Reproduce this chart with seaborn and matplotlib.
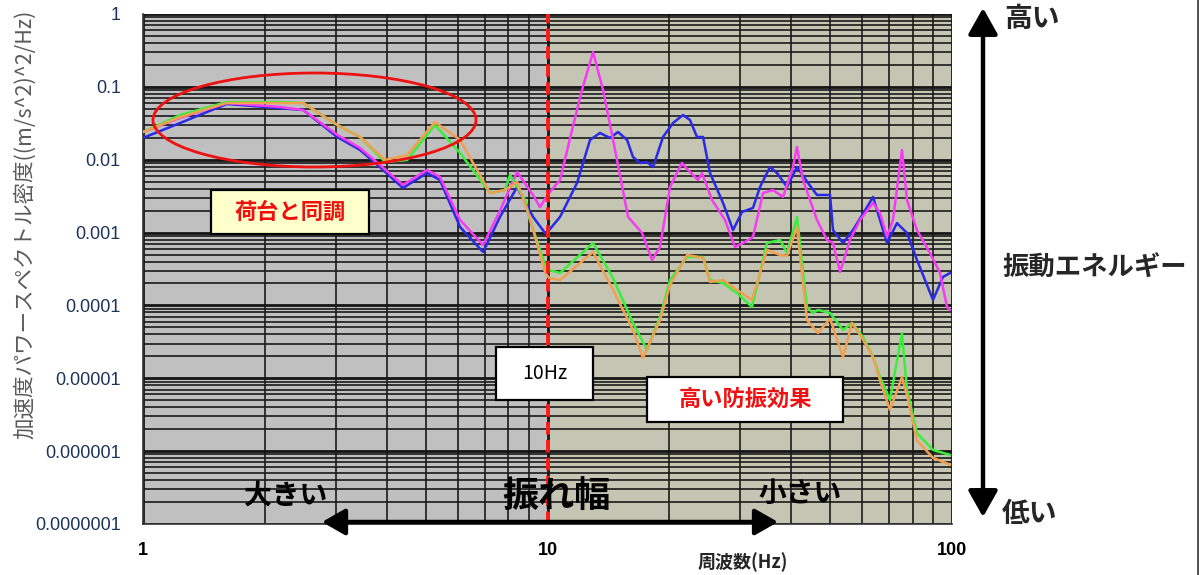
import numpy as np
import pandas as pd
import seaborn as sns
import matplotlib
matplotlib.use("Agg")
import matplotlib.pyplot as plt
from matplotlib.patches import Ellipse, Rectangle, FancyArrowPatch
from matplotlib.lines import Line2D
from matplotlib.ticker import LogLocator, FixedLocator, NullFormatter

# ---------------- data ----------------
blue_f = [1.0, 1.235, 1.61, 2.18, 2.49, 3.02, 3.44, 3.85, 4.39, 5.04, 5.42, 6.08, 6.93, 7.63, 8.41,
          9.21, 9.86, 10.09, 10.74, 11.83, 12.74, 13.48, 14.27, 14.94, 15.73, 16.27, 16.93, 17.62,
          18.24, 19.30, 20.43, 21.63, 22.5, 23.42, 24.24, 25.22, 27.16, 28.75, 30.26, 32.21, 33.52,
          35.48, 36.93, 39.09, 41.38, 44.06, 46.37, 49.94, 50.8, 53.78, 56.9, 61.65, 63.79, 69.07,
          73.11, 77.4, 81.94, 89.74, 95.0, 98.9]
blue_v = [0.0199, 0.0319, 0.0582, 0.051, 0.0481, 0.0205, 0.0136, 0.00795, 0.00409, 0.00657, 0.00527,
          0.00119, 0.000541, 0.00164, 0.00422, 0.00164, 0.000987, 0.00108, 0.00164, 0.00479, 0.0187,
          0.0233, 0.0199, 0.024, 0.0187, 0.0109, 0.00902, 0.0093, 0.00795, 0.0205, 0.0319, 0.0411,
          0.0351, 0.0205, 0.0205, 0.00657, 0.00255, 0.00108, 0.00192, 0.00218, 0.00422, 0.00795,
          0.00657, 0.00422, 0.00795, 0.00479, 0.00328, 0.00328, 0.00108, 0.000719, 0.00108, 0.00224,
          0.00308, 0.000719, 0.00135, 0.000987, 0.00042, 0.000119, 0.000246, 0.000279]

magenta_f = [1.0, 1.235, 1.61, 2.18, 2.49, 3.02, 3.44, 3.85, 4.39, 5.04, 5.42, 6.08, 6.93, 7.63, 8.41,
             9.21, 9.58, 10.09, 10.74, 11.5, 12.17, 12.96, 13.72, 14.69, 15.82, 17.13, 18.13, 18.97,
             20.09, 21.5, 22.25, 23.55, 24.1, 25.51, 27.47, 29.08, 30.78, 32.21, 34.1, 36.1, 38.21,
             40.45, 41.38, 42.82, 46.37, 49.1, 50.8, 52.87, 55.94, 59.25, 63.79, 66.37, 69.07, 71.46,
             75.22, 77.4, 81.94, 88.22, 93.4, 97.2, 98.9]
magenta_v = [0.024, 0.0375, 0.060, 0.053, 0.0481, 0.022, 0.0145, 0.0085, 0.0045, 0.00723, 0.0058,
             0.00149, 0.000675, 0.002, 0.00678, 0.00328, 0.00224, 0.00349, 0.00527, 0.0256, 0.0906,
             0.301, 0.0906, 0.0136, 0.00164, 0.000987, 0.00042, 0.000634, 0.00422, 0.00902, 0.00723,
             0.00527, 0.00657, 0.0028, 0.00149, 0.000634, 0.000743, 0.00087, 0.00349, 0.00384,
             0.00308, 0.00795, 0.01495, 0.00527, 0.00149, 0.00079, 0.000719, 0.000288, 0.00079,
             0.00149, 0.00255, 0.00186, 0.00087, 0.00149, 0.0136, 0.0028, 0.00108, 0.000524,
             0.000279, 0.0000952, 0.0000866]

green_f = [1.0, 1.235, 1.61, 2.18, 2.49, 3.02, 3.44, 3.97, 4.50, 5.27, 6.08, 7.21, 7.85, 8.08, 8.80,
           9.0, 9.86, 10.09, 10.74, 12.96, 14.52, 16.27, 17.62, 18.97, 20.09, 22.13, 24.24, 25.22,
           27.16, 29.41, 32.03, 34.88, 37.57, 39.09, 41.38, 43.8, 45.33, 46.64, 49.94, 53.78, 56.58,
           60.26, 63.79, 66.37, 70.26, 75.22, 77.4, 81.94, 89.74, 98.9]
green_v = [0.024, 0.041, 0.062, 0.062, 0.060, 0.030, 0.0205, 0.0093, 0.00991, 0.030, 0.01237,
           0.00349, 0.00384, 0.00617, 0.0028, 0.00164, 0.000359, 0.000306, 0.000279, 0.000719,
           0.000238, 0.0000574, 0.0000245, 0.0000694, 0.000223, 0.000462, 0.000462, 0.000223,
           0.000203, 0.000148, 0.0000952, 0.000719, 0.00079, 0.000524, 0.00164, 0.0000952,
           0.0000788, 0.0000866, 0.0000788, 0.000046, 0.0000574, 0.0000369, 0.0000196, 0.0000104,
           0.00000504, 0.0000418, 0.0000069, 0.00000177, 0.00000104, 0.000000886]

orange_f = [1.0, 1.235, 1.61, 2.18, 2.49, 3.02, 3.44, 3.97, 4.50, 5.27, 6.08, 7.21, 7.85, 8.41, 9.0,
            9.86, 10.09, 10.74, 12.96, 14.52, 16.27, 17.22, 18.97, 20.09, 22.13, 24.24, 25.22, 27.16,
            29.41, 32.03, 34.88, 37.57, 39.09, 41.38, 43.8, 46.64, 49.94, 53.78, 56.58, 60.26, 63.79,
            66.37, 70.26, 75.22, 77.4, 81.94, 89.74, 98.9]
orange_v = [0.024, 0.0385, 0.060, 0.060, 0.060, 0.030, 0.0205, 0.00991, 0.0116, 0.0329, 0.0187,
            0.00349, 0.00384, 0.00494, 0.00174, 0.000288, 0.000238, 0.000223, 0.000541, 0.000163,
            0.000046, 0.000019, 0.000063, 0.000191, 0.000493, 0.00045, 0.00021, 0.000223, 0.000163,
            0.000119, 0.00058, 0.000493, 0.00048, 0.00119, 0.000063, 0.0000418, 0.000066, 0.0000196,
            0.0000574, 0.000034, 0.0000196, 0.0000094, 0.00000367, 0.0000104, 0.0000059, 0.0000014,
            0.00000081, 0.00000065]

x_ticks = [1, 10, 100]
x_tick_labels = ["1", "10", "100"]
y_ticks = [1e-7, 1e-6, 1e-5, 1e-4, 1e-3, 1e-2, 1e-1, 1]
y_tick_labels = ["0.0000001", "0.000001", "0.00001", "0.0001", "0.001", "0.01", "0.1", "1"]

# ---------------- figure ----------------
sns.set_style("white")
plt.rcParams["font.family"] = ["Noto Sans CJK JP", "DejaVu Sans"]

W, H = 1203, 575
fig = plt.figure(figsize=(W / 100, H / 100), dpi=100)
fig.patch.set_facecolor("white")

def fx(px):
    return px / W

def fy(py):
    return 1 - py / H

ax = fig.add_axes([fx(143), fy(524), (952 - 143) / W, (524 - 14) / H])
ax.set_xscale("log")
ax.set_yscale("log")

ax.axvspan(1, 10, color="#c0c0c0", zorder=-2, lw=0)
ax.axvspan(10, 100, color="#c5c5b3", zorder=-2, lw=0)

series = [
    (blue_f, blue_v, "#2a2ae6"),
    (magenta_f, magenta_v, "#f53cf3"),
    (green_f, green_v, "#3cee3c"),
    (orange_f, orange_v, "#f0a050"),
]
for f, v, c in series:
    df = pd.DataFrame({"f": f, "v": v})
    sns.lineplot(data=df, x="f", y="v", color=c, lw=1.8, ax=ax, sort=False,
                 legend=False, zorder=3)

ax.set_xlim(1, 100)
ax.set_ylim(1e-7, 1)

ax.xaxis.set_major_locator(FixedLocator(x_ticks))
ax.xaxis.set_minor_locator(LogLocator(base=10, subs=np.arange(2, 10), numticks=20))
ax.xaxis.set_minor_formatter(NullFormatter())
ax.yaxis.set_major_locator(FixedLocator(y_ticks))
ax.yaxis.set_minor_locator(LogLocator(base=10, subs=np.arange(2, 10), numticks=20))
ax.yaxis.set_minor_formatter(NullFormatter())
ax.set_xticklabels(x_tick_labels, fontsize=13, fontweight="bold", color="black",
                   fontfamily=["Liberation Sans", "DejaVu Sans"])
ax.set_yticklabels(y_tick_labels, fontsize=13, color="#1d3358",
                   fontfamily=["Liberation Sans", "DejaVu Sans"])
ax.tick_params(axis="x", which="both", length=0, pad=13)
ax.tick_params(axis="y", which="both", length=0, pad=16)

ax.set_axisbelow(True)
ax.grid(which="major", color="#151515", lw=2.0, zorder=0.5)
ax.grid(which="minor", color="#1a1a1a", lw=1.2, zorder=0.5)
for s in ["top", "right"]:
    ax.spines[s].set_visible(False)
for s in ["left", "bottom"]:
    ax.spines[s].set_color("#333333")
    ax.spines[s].set_linewidth(1.2)

ax.set_xlabel("")
ax.set_ylabel("")

ax.axvline(10, color="#ff1a1a", lw=2.8, dashes=(3.2, 1.4), zorder=4)

# ---------------- annotations ----------------
fig.text(fx(25), fy(224), "加速度パワースペクトル密度((m/s^2)^2/Hz)", rotation=90,
         ha="center", va="center", fontsize=15.5, color="#5a5a5a")
fig.text(fx(743), fy(562), "周波数(Hz)", ha="center", va="center", fontsize=13,
         fontweight="bold")

fig.add_artist(Ellipse((fx(314.5), fy(120)), 323 / W, 94 / H, transform=fig.transFigure,
                       fill=False, ec="#ee1111", lw=2.0, zorder=6))

def box(x0, y0, x1, y1, fc, text, tcolor, size, weight):
    fig.add_artist(Rectangle((fx(x0), fy(y1)), (x1 - x0) / W, (y1 - y0) / H,
                             transform=fig.transFigure, fc=fc, ec="black", lw=1.6, zorder=7))
    fig.text(fx((x0 + x1) / 2), fy((y0 + y1) / 2), text, ha="center", va="center",
             fontsize=size, fontweight=weight, color=tcolor, zorder=8)

box(211, 190, 369, 234, "#ffffcc", "荷台と同調", "#ee1111", 16, "bold")
box(496, 347, 593, 400, "white", "10Hz", "black", 14, "normal")
box(647, 377, 843, 422, "white", "高い防振効果", "#ee1111", 16, "bold")

fig.text(fx(286), fy(496), "大きい", ha="center", va="center", fontsize=20, fontweight="bold",
         color="black", zorder=8)
fig.text(fx(556), fy(496), "振れ幅", ha="center", va="center", fontsize=26, fontweight="bold",
         color="black", zorder=8)
fig.text(fx(800), fy(494), "小さい", ha="center", va="center", fontsize=20, fontweight="bold",
         color="black", zorder=8)

fig.add_artist(FancyArrowPatch((fx(322), fy(522)), (fx(778), fy(522)), transform=fig.transFigure,
                               arrowstyle="<|-|>,head_length=0.7,head_width=0.4", mutation_scale=20,
                               lw=3.2, color="black", shrinkA=0, shrinkB=0, zorder=9))
fig.add_artist(FancyArrowPatch((fx(983), fy(517)), (fx(983), fy(8)), transform=fig.transFigure,
                               arrowstyle="<|-|>,head_length=0.8,head_width=0.45", mutation_scale=20,
                               lw=3.2, color="black", shrinkA=0, shrinkB=0, zorder=9))

fig.text(fx(1032), fy(19), "高い", ha="center", va="center", fontsize=20, fontweight="bold")
fig.text(fx(1030), fy(514), "低い", ha="center", va="center", fontsize=20, fontweight="bold")
fig.text(fx(1095), fy(268), "振動エネルギー", ha="center", va="center", fontsize=19, fontweight="bold")

fig.add_artist(Line2D([fx(1198), fx(1198)], [0, 1], transform=fig.transFigure, color="#333333", lw=1.2))

fig.savefig("out.png", dpi=100, facecolor="white")
